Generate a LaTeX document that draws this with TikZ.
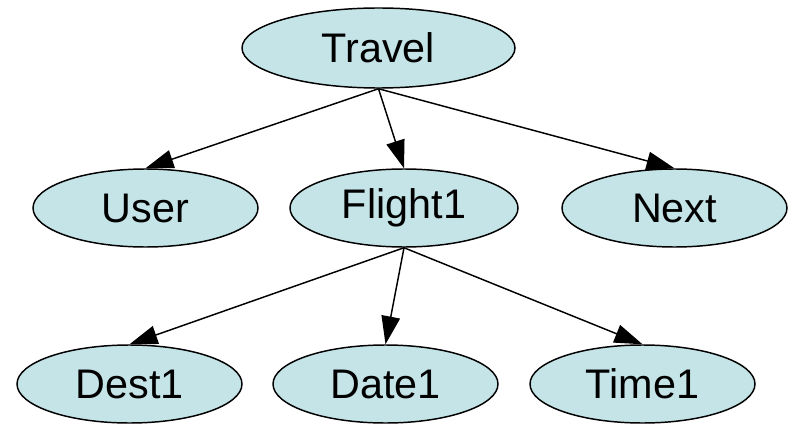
\documentclass[tikz,border=0pt]{standalone}
\usepackage{fontspec}
\setmainfont{Liberation Sans}
\usetikzlibrary{shapes.geometric,arrows.meta}
\definecolor{nodefill}{RGB}{196,228,232}
\tikzset{
  leaf/.style={ellipse, draw=black, line width=1.1pt, fill=nodefill,
    inner sep=0pt, minimum width=168.75pt, minimum height=58.5pt,
    font=\fontsize{31}{31}\selectfont},
  link/.style={line width=1.1pt, -{Triangle[length=21pt,width=14pt]}}
}
\begin{document}
\begin{tikzpicture}[x=0.75pt,y=-0.75pt]
  \useasboundingbox (0,0) rectangle (795,424);
  % top level
  \node[leaf, minimum width=204.75pt, minimum height=60pt] (travel) at (378.5,48) {Travel};
  % second level
  \node[leaf] (user) at (145.5,208) {User};
  \node[leaf, minimum width=171pt] (flight) at (404,208) {Flight1};
  \node[leaf] (next) at (674.5,208) {Next};
  % third level
  \node[leaf] (dest) at (129.5,384) {Dest1};
  \node[leaf] (date) at (385.5,384) {Date1};
  \node[leaf] (time) at (642.5,384) {Time1};
  % edges
  \draw[link] (travel.south) -- (user.north);
  \draw[link] (travel.south) -- (flight.north);
  \draw[link] (travel.south) -- (next.north);
  \draw[link] (flight.south) -- (dest.north);
  \draw[link] (flight.south) -- (date.north);
  \draw[link] (flight.south) -- (time.north);
\end{tikzpicture}
\end{document}
